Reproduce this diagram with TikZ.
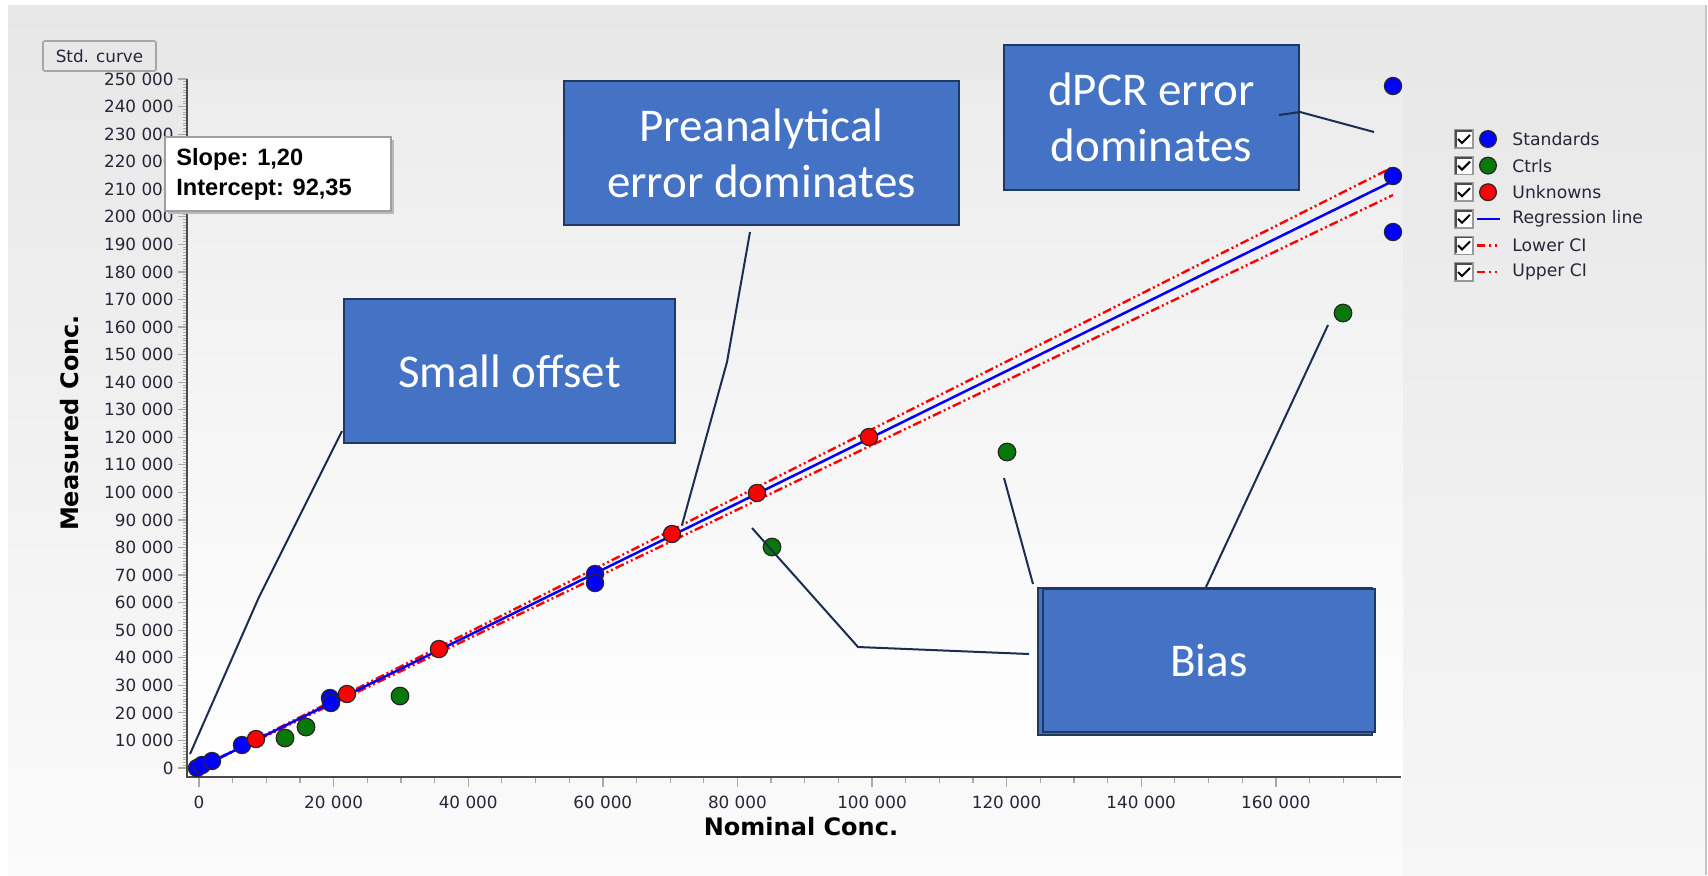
\documentclass[tikz,border=0pt]{standalone}
\usepackage{fontspec}
\setmainfont{DejaVu Sans}
\newfontfamily\calfont{Carlito}
\newfontfamily\arfont{Liberation Sans}
\newfontfamily\dvfont{DejaVu Sans}
\definecolor{annotfill}{HTML}{4472C4}
\definecolor{annotborder}{HTML}{1F3864}
\definecolor{leadercol}{HTML}{1C2E4F}
\definecolor{labelcol}{HTML}{2A2438}
\definecolor{bgtop}{HTML}{E7E7E7}
\definecolor{bgbot}{HTML}{FBFBFB}
\definecolor{plottop}{HTML}{ECECEC}
\definecolor{plotbot}{HTML}{FFFFFF}
\definecolor{axiscol}{HTML}{4A4A4A}
\definecolor{tickcol}{HTML}{AAAAAA}
\definecolor{ptblue}{HTML}{0000FF}
\definecolor{ptgreen}{HTML}{087808}
\definecolor{ptred}{HTML}{FF0000}
\begin{document}
\begin{tikzpicture}[x=0.5pt,y=-0.5pt,
  annot/.style={draw=annotborder, line width=1pt, fill=annotfill, text=white,
    font=\calfont\fontsize{23.5}{28}\selectfont, align=center, inner sep=0pt},
  leader/.style={draw=leadercol, line width=1pt, line join=round},
  ticklab/.style={font=\dvfont\fontsize{8.4}{10}\selectfont, text=labelcol, inner sep=0pt},
  axtitle/.style={font=\dvfont\bfseries\fontsize{12}{14}\selectfont, text=black, inner sep=0pt},
  legtext/.style={font=\dvfont\fontsize{8.6}{10}\selectfont, text=labelcol, inner sep=0pt, anchor=west},
  stdpt/.style={fill=ptblue, draw=black!85, line width=0.6pt},
  ctrlpt/.style={fill=ptgreen, draw=black!85, line width=0.6pt},
  unkpt/.style={fill=ptred, draw=black!85, line width=0.6pt},
  regline/.style={draw=ptblue, line width=1.25pt},
  ciline/.style={draw=ptred, line width=1.2pt, dash pattern=on 4.5pt off 1.5pt on 1pt off 1.5pt on 1pt off 1.5pt},
  chkbox/.style={fill=white, draw=gray!80, line width=0.8pt}
]
\useasboundingbox (0,0) rectangle (1708,875);
\fill[white] (0,0) rectangle (1708,875);
% backgrounds
\shade[top color=bgtop, bottom color=bgbot] (8,5) rectangle (1403,875);
\shade[top color=bgtop, bottom color=gray!7] (1403,5) rectangle (1706,875);
\draw[gray!45, line width=1pt] (1706,5) -- (1706,875);
\shade[top color=plottop, bottom color=plotbot] (187,79) rectangle (1403,777);

% Std. curve button
\node[draw=gray!70, line width=0.8pt, fill=gray!18, rounded corners=1pt,
  minimum width=56.5pt, minimum height=15pt, inner sep=0pt,
  font=\dvfont\fontsize{8.4}{10}\selectfont, text=labelcol] (stdbtn) at (99.5,56) {Std. curve};

% y minor ticks
\foreach \m in {0,...,250} {
  \draw[tickcol, line width=0.4pt] (183,{768-2.756*\m}) -- (187,{768-2.756*\m});
}
% y major ticks and labels
\foreach \k in {0,...,25} {
  \draw[tickcol, line width=0.6pt] (178,{768-27.56*\k}) -- (187,{768-27.56*\k});
  \ifnum\k=0
    \node[ticklab, anchor=east] (yl\k) at (174,{768-27.56*\k}) {0};
  \else
    \node[ticklab, anchor=east] (yl\k) at (174,{768-27.56*\k}) {\k0 000};
  \fi
}
% x ticks
\foreach \m in {0,...,35} {
  \draw[tickcol, line width=0.6pt] ({199+33.65*\m},777) -- ({199+33.65*\m},783);
}
\foreach \k in {0,2,...,16} {
  \draw[tickcol, line width=0.7pt] ({199+67.3*\k},777) -- ({199+67.3*\k},787);
  \ifnum\k=0
    \node[ticklab] (xl\k) at ({199+67.3*\k},802) {0};
  \else
    \node[ticklab] (xl\k) at ({199+67.3*\k},802) {\k0 000};
  \fi
}
% axes
\draw[axiscol, line width=1.2pt] (187,79) -- (187,777);
\draw[axiscol, line width=1.4pt] (186,777) -- (1401,777);

% axis titles
\node[axtitle] (xtitle) at (801,827) {Nominal Conc.};
\node[axtitle, rotate=90] (ytitle) at (70,423) {Measured Conc.};

% regression and CI lines
\coordinate (org) at (199,768);
\coordinate (regend) at (1393,181);
\coordinate (upend) at (1393,167);
\coordinate (loend) at (1393,195);
\draw[ciline] (org) -- (upend);
\draw[ciline] (org) -- (loend);
\draw[regline] (org) -- (regend);

% data points: Ctrls
\foreach \p in {(285,738),(306,727),(400,696),(772,547),(1007,452),(1343,313)}
  \path[ctrlpt] \p circle[radius=4.4pt];
% Standards
\foreach \p in {(197,768),(202,765),(212,761),(242,745),(330,698),(331,703),(595,574),(595,583),(1393,86),(1393,176),(1393,232)}
  \path[stdpt] \p circle[radius=4.3pt];
% Unknowns
\foreach \p in {(256,739),(347,694),(439,649),(672,534),(757,493),(869,437)}
  \path[unkpt] \p circle[radius=4.3pt];

% slope box
\fill[gray!55] (168,140) rectangle (394,214);
\draw[gray!75, fill=white, line width=0.7pt] (165,137) rectangle (391,211);
\node[font=\arfont\bfseries\fontsize{11.8}{13}\selectfont, anchor=west, inner sep=0pt] (slope) at (176,159) {Slope: 1,20};
\node[font=\arfont\bfseries\fontsize{11.8}{13}\selectfont, anchor=west, inner sep=0pt] (icept) at (176,190) {Intercept: 92,35};

% legend
\foreach \i/\t in {0/Standards,1/Ctrls,2/Unknowns,3/Regression line,4/Lower CI,5/Upper CI} {
  \draw[chkbox] (1455,{130+26.6*\i}) rectangle (1473,{148+26.6*\i});
  \draw[gray!60!black, line width=0.9pt] (1456,{147+26.6*\i}) -- (1456,{131+26.6*\i}) -- (1472,{131+26.6*\i});
  \draw[black, line width=1pt] (1458,{139+26.6*\i}) -- (1462,{143+26.6*\i}) -- (1470,{135+26.6*\i});
  \node[legtext] (leg\i) at (1512,{139+26.6*\i}) {\t};
}
\path[stdpt] (1488,139) circle[radius=4.2pt];
\path[ctrlpt] (1488,165.6) circle[radius=4.2pt];
\path[unkpt] (1488,192.2) circle[radius=4.2pt];
\draw[regline] (1477,218.8) -- (1500,218.8);
\draw[ptred, line width=1.1pt] (1477,245.4) -- (1485,245.4) (1489,245.4) -- (1491,245.4) (1495,245.4) -- (1497,245.4);
\draw[ptred, line width=1.1pt] (1477,272) -- (1485,272) (1489,272) -- (1491,272) (1495,272) -- (1497,272);

% annotation boxes
\node[annot, minimum width=197.5pt, minimum height=72pt] (pre) at (761.5,153) {Preanalytical\\error dominates};
\node[annot, minimum width=147.5pt, minimum height=72.5pt] (dpcr) at (1151.5,117.5) {dPCR error\\dominates};
\node[annot, minimum width=165.5pt, minimum height=72pt] (small) at (509.5,371) {Small offset};
\draw[annotborder, line width=1pt, fill=annotfill] (1038,588) rectangle (1372,735);
\node[annot, minimum width=166pt, minimum height=71.5pt] (bias) at (1209,660.5) {Bias};

% leaders
\coordinate (so1) at (342,431);
\coordinate (so2) at (259,597);
\coordinate (so3) at (190,754);
\draw[leader] (so1) -- (so2) -- (so3);
\coordinate (pa1) at (750,232);
\coordinate (pa2) at (727,362);
\coordinate (pa3) at (682,525);
\draw[leader] (pa1) -- (pa2) -- (pa3);
\coordinate (d1) at (1279,115);
\coordinate (d2) at (1300,112);
\coordinate (d3) at (1374,132);
\draw[leader] (d1) -- (d2) -- (d3);
\coordinate (ba1) at (752,528);
\coordinate (ba2) at (858,647);
\coordinate (ba3) at (1029,654);
\draw[leader] (ba1) -- (ba2) -- (ba3);
\coordinate (bb1) at (1004,478);
\coordinate (bb2) at (1033,584);
\draw[leader] (bb1) -- (bb2);
\coordinate (bc1) at (1328,325);
\coordinate (bc2) at (1206,587);
\draw[leader] (bc1) -- (bc2);
\end{tikzpicture}
\end{document}
